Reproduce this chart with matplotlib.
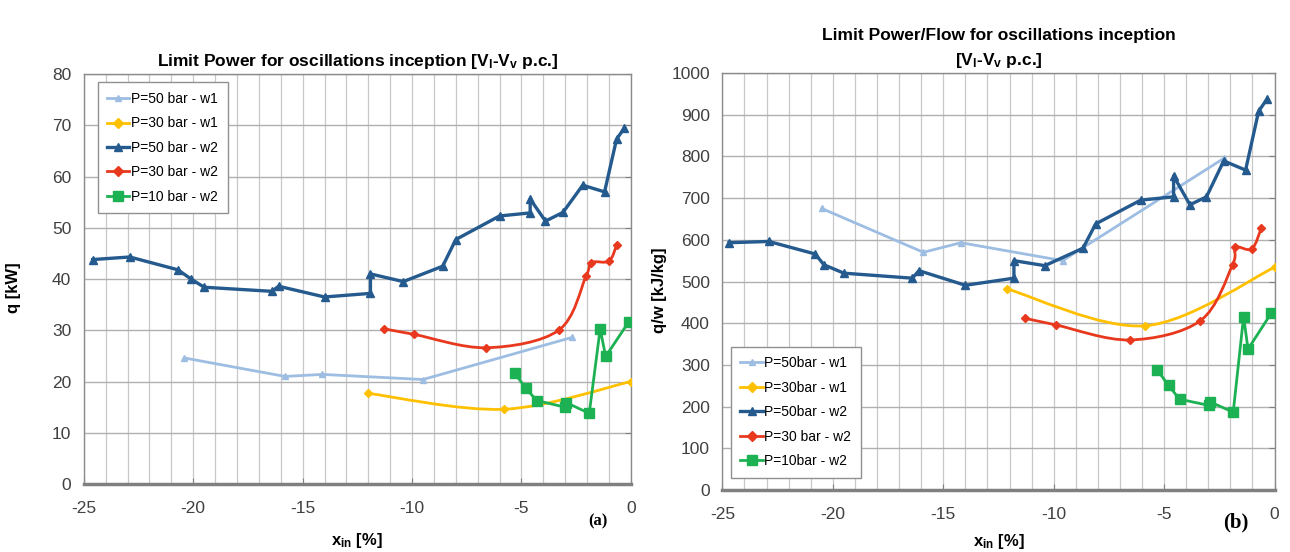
import numpy as np
import matplotlib
matplotlib.use("Agg")
import matplotlib.pyplot as plt
from matplotlib.path import Path
from matplotlib.patches import PathPatch
from matplotlib.ticker import MultipleLocator

plt.rcParams['font.family'] = ['Liberation Sans', 'DejaVu Sans']
plt.rcParams['mathtext.fontset'] = 'custom'
plt.rcParams['mathtext.rm'] = 'Liberation Sans:bold'
plt.rcParams['mathtext.it'] = 'Liberation Sans:bold'
plt.rcParams['mathtext.bf'] = 'Liberation Sans:bold'
plt.rcParams['mathtext.default'] = 'rm'
plt.rcParams['axes.unicode_minus'] = False

# ---------------- data: panel (a) q [kW] ----------------
a_lb_x = [-20.4, -15.8, -14.1, -9.5, -2.7]
a_lb_y = [24.6, 21.0, 21.4, 20.4, 28.6]

a_ye_x = [-12.0, -5.8, 0.0]
a_ye_y = [17.7, 14.6, 20.0]

a_db_x = [-24.6, -22.9, -20.7, -20.1, -19.5, -16.4, -16.1, -14.0, -11.9, -11.9,
          -10.4, -8.6, -8.0, -6.0, -4.6, -4.6, -3.9, -3.1, -2.2, -1.2, -0.65, -0.3]
a_db_y = [43.8, 44.3, 41.8, 40.0, 38.4, 37.6, 38.6, 36.5, 37.2, 41.0,
          39.5, 42.5, 47.7, 52.3, 52.9, 55.6, 51.3, 53.0, 58.3, 57.0, 67.3, 69.4]

a_re_x = [-11.3, -9.9, -6.6, -3.3, -2.05, -1.8, -1.0, -0.65]
a_re_y = [30.3, 29.2, 26.6, 30.0, 40.5, 43.2, 43.5, 46.6]

a_gr_x = [-5.3, -4.8, -4.3, -3.0, -2.95, -1.9, -1.4, -1.15, -0.1]
a_gr_y = [21.6, 18.7, 16.3, 15.0, 15.9, 13.8, 30.3, 24.9, 31.6]

# ---------------- data: panel (b) q/w [kJ/kg] ----------------
b_lb_x = [-20.5, -15.9, -14.2, -9.6, -2.3]
b_lb_y = [675, 570, 593, 550, 795]

b_ye_x = [-12.1, -5.85, 0.0]
b_ye_y = [482, 394, 534]

b_db_x = [-24.7, -22.9, -20.8, -20.4, -19.5, -16.4, -16.1, -14.0, -11.8, -11.8,
          -10.4, -8.67, -8.1, -6.06, -4.57, -4.57, -3.83, -3.08, -2.3, -1.31, -0.72, -0.33]
b_db_y = [593, 596, 566, 540, 520, 508, 526, 491, 508, 550,
          538, 580, 638, 695, 703, 753, 684, 703, 789, 767, 908, 938]

b_re_x = [-11.3, -9.9, -6.56, -3.36, -1.9, -1.78, -1.03, -0.6]
b_re_y = [412, 396, 360, 406, 540, 582, 578, 628]

b_gr_x = [-5.32, -4.8, -4.3, -2.95, -2.9, -1.87, -1.4, -1.2, -0.15]
b_gr_y = [289, 251, 218, 203, 211, 187, 416, 338, 424]

labels_a = ["P=50 bar - w1", "P=30 bar - w1", "P=50 bar - w2", "P=30 bar - w2", "P=10 bar - w2"]
labels_b = ["P=50bar - w1", "P=30bar - w1", "P=50bar - w2", "P=30 bar - w2", "P=10bar - w2"]

C_LB = '#9dbde2'
C_YE = '#ffc000'
C_DB = '#245a8e'
C_RE = '#e8391e'
C_GR = '#1cb153'


def smooth_line(ax, xs, ys, color, lw):
    """Excel-style smoothed line: Catmull-Rom segments as cubic Beziers."""
    x = np.asarray(xs, float)
    y = np.asarray(ys, float)
    n = len(x)
    verts = [(x[0], y[0])]
    codes = [Path.MOVETO]
    for i in range(n - 1):
        p0 = np.array([x[max(i - 1, 0)], y[max(i - 1, 0)]])
        p1 = np.array([x[i], y[i]])
        p2 = np.array([x[i + 1], y[i + 1]])
        p3 = np.array([x[min(i + 2, n - 1)], y[min(i + 2, n - 1)]])
        c1 = p1 + (p2 - p0) / 6.0
        c2 = p2 - (p3 - p1) / 6.0
        verts += [tuple(c1), tuple(c2), tuple(p2)]
        codes += [Path.CURVE4] * 3
    ax.add_patch(PathPatch(Path(verts, codes), fill=False, edgecolor=color,
                           lw=lw, transform=ax.transData, zorder=3))


def panel(ax, data, labels, ymax, ystep, ylab, ylab_x, xlab_y, title, legloc, tag, tagsize):
    (lbx, lby), (yex, yey), (dbx, dby), (rex, rey), (grx, gry) = data
    ax.plot(lbx, lby, '-', color=C_LB, lw=2.0, marker='^', ms=5, zorder=3, label=labels[0])
    smooth_line(ax, yex, yey, C_YE, 2.0)
    ax.plot(yex, yey, linestyle='none', color=C_YE, marker='D', ms=4, zorder=4)
    ax.plot([], [], '-', color=C_YE, lw=2.0, marker='D', ms=5, label=labels[1])
    ax.plot(dbx, dby, '-', color=C_DB, lw=2.4, marker='^', ms=6, zorder=5, label=labels[2])
    smooth_line(ax, rex, rey, C_RE, 2.0)
    ax.plot(rex, rey, linestyle='none', color=C_RE, marker='D', ms=4.5, zorder=4)
    ax.plot([], [], '-', color=C_RE, lw=2.0, marker='D', ms=5, label=labels[3])
    ax.plot(grx, gry, '-', color=C_GR, lw=2.0, marker='s', ms=6.5, zorder=4, label=labels[4])

    ax.set_xlim(-25, 0)
    ax.set_ylim(0, ymax)
    ax.xaxis.set_major_locator(MultipleLocator(5))
    ax.xaxis.set_minor_locator(MultipleLocator(1))
    ax.yaxis.set_major_locator(MultipleLocator(ystep))
    ax.grid(True, which='major', axis='y', color='#b0b0b0', lw=1.0)
    ax.grid(True, which='both', axis='x', color='#c8c8c8', lw=0.9)
    ax.set_axisbelow(True)
    for s in ['top', 'right', 'left']:
        ax.spines[s].set_color('#8a8a8a')
        ax.spines[s].set_linewidth(1.0)
    ax.spines['bottom'].set_color('#808080')
    ax.spines['bottom'].set_linewidth(2.5)
    ax.tick_params(axis='both', which='major', labelsize=12.5, labelcolor='#404040',
                   color='#808080', direction='in', length=4)
    ax.tick_params(axis='x', which='major', pad=12)
    ax.tick_params(axis='y', which='major', pad=9)
    ax.tick_params(axis='x', which='minor', length=0)
    ax.tick_params(axis='y', right=True, left=False)
    ax.set_xlabel(r'x$_{in}$ [%]', fontsize=12, fontweight='bold')
    ax.xaxis.set_label_coords(0.5, xlab_y)
    ax.set_ylabel(ylab, fontsize=12, fontweight='bold')
    ax.yaxis.set_label_coords(ylab_x, 0.48)
    ax.set_title(title, fontsize=12.5, fontweight='bold', pad=6, linespacing=1.55)
    leg = ax.legend(loc=legloc, fontsize=10, frameon=True, fancybox=False,
                    edgecolor='#909090', handlelength=1.6, handletextpad=0.1,
                    borderpad=0.7, labelspacing=0.75)
    leg.get_frame().set_linewidth(1.0)
    leg.get_frame().set_alpha(1.0)
    ax.text(*tag[0], tag[1], transform=ax.transAxes, fontsize=tagsize,
            fontweight='bold', family='Liberation Serif', ha='center', va='center')


fig = plt.figure(figsize=(12.9, 5.52), dpi=100)
ax1 = fig.add_axes([0.065, 0.123, 0.424, 0.743])
ax2 = fig.add_axes([0.560, 0.112, 0.428, 0.756])

panel(ax1,
      [(a_lb_x, a_lb_y), (a_ye_x, a_ye_y), (a_db_x, a_db_y), (a_re_x, a_re_y), (a_gr_x, a_gr_y)],
      labels_a, 80, 10, 'q [kW]', -0.115, -0.115,
      r'Limit Power for oscillations inception [V$_l$-V$_v$ p.c.]',
      (0.025, 0.66), ((0.94, -0.09), '(a)'), 12)
panel(ax2,
      [(b_lb_x, b_lb_y), (b_ye_x, b_ye_y), (b_db_x, b_db_y), (b_re_x, b_re_y), (b_gr_x, b_gr_y)],
      labels_b, 1000, 100, 'q/w [kJ/kg]', -0.1, -0.1,
      'Limit Power/Flow for oscillations inception\n' + r'[V$_l$-V$_v$ p.c.]',
      (0.015, 0.03), ((0.93, -0.078), '(b)'), 15)

fig.savefig('out.png', dpi=100, facecolor='white')
